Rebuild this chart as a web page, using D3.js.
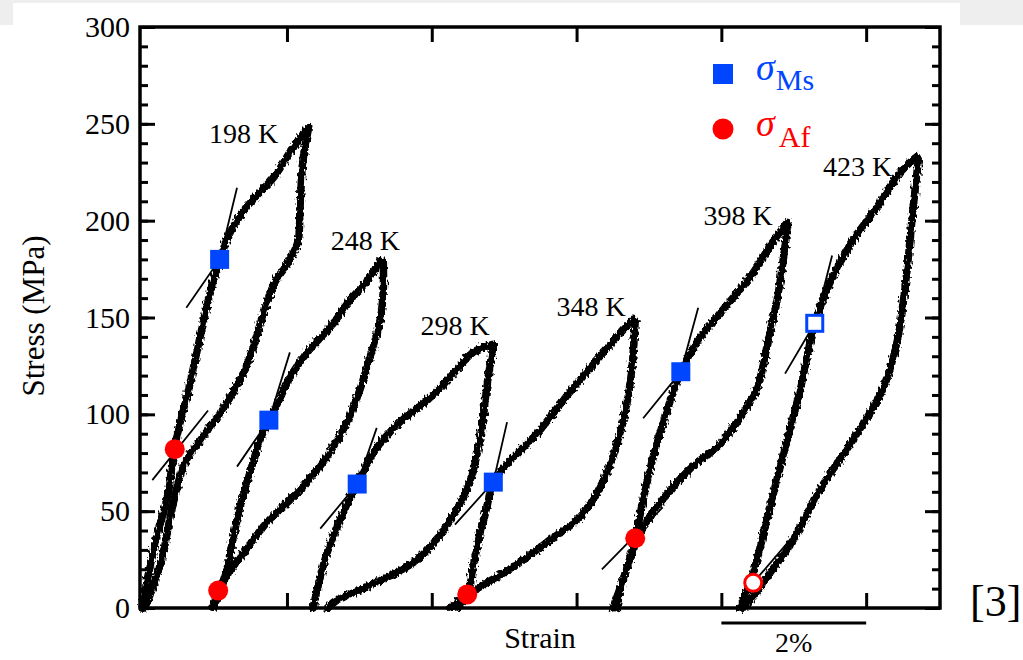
<!DOCTYPE html>
<html>
<head>
    <title></title>
    <meta charset="utf-8">
    <style>
        body { margin: 0; background: #fff; }
        text { font-family: 'Liberation Serif', 'Times New Roman', serif; }
    </style>
</head>
<body>
<script src="https://d3js.org/d3.v7.min.js"></script>
<script>
    // stress-strain loops, [strain %, stress MPa]
    var load198 = [[0.0,0],[0.18,34],[0.36,59],[0.44,82],[0.63,111],[0.83,145],[0.96,166],[1.07,179],
        [1.19,192],[1.42,206],[1.56,212],[1.83,223],[2.07,237],[2.29,248]];
    var unload198 = [[2.30,248],[2.22,231],[2.18,206],[2.15,189],[2.01,178],[1.83,168],[1.66,150],
        [1.42,123],[1.10,102],[0.83,88],[0.59,75],[0.41,51],[0.27,25],[0.08,4],[0.03,0]];

    var load248 = [[0.96,0],[1.07,9],[1.17,20],[1.25,35],[1.35,52],[1.49,70],[1.63,87],[1.75,97],
        [1.90,108],[2.04,119],[2.28,132],[2.64,147],[2.87,159],[3.11,169],[3.28,179]];
    var unload248 = [[3.33,179],[3.33,164],[3.28,147],[3.15,130],[3.01,113],[2.83,96],[2.55,78],
        [2.18,61],[1.72,44],[1.35,26],[1.14,15],[1.05,7],[0.99,0]];

    var load298 = [[2.36,0],[2.55,28],[2.73,45],[2.87,57],[2.97,64],[3.19,80],[3.56,96],[3.93,107],
        [4.25,119],[4.57,132],[4.83,136]];
    var unload298 = [[4.85,136],[4.76,114],[4.67,88],[4.53,66],[4.25,45],[3.80,25],[3.11,11],
        [2.64,3],[2.57,0]];

    var load348 = [[4.25,0],[4.42,5],[4.50,8],[4.57,21],[4.67,39],[4.76,52],[4.85,65],[5.08,76],
        [5.45,90],[5.81,107],[6.19,124],[6.56,140],[6.78,149]];
    var unload348 = [[6.81,148],[6.74,116],[6.60,90],[6.36,65],[6.05,47],[5.59,34],[5.12,21],
        [4.67,11],[4.49,6],[4.36,0]];

    var load398 = [[6.50,0],[6.70,21],[6.81,36],[6.97,65],[7.15,90],[7.44,122],[7.66,137],[8.02,154],
        [8.40,171],[8.71,189],[8.91,199]];
    var unload398 = [[8.92,199],[8.84,176],[8.77,159],[8.67,142],[8.57,124],[8.49,113],[8.35,104],
        [8.22,96],[7.94,83],[7.66,75],[7.39,65],[7.19,56],[7.01,47],[6.88,39],[6.70,21],[6.60,9],[6.56,0]];

    var load423 = [[8.26,0],[8.44,18],[8.67,52],[8.91,87],[9.09,113],[9.29,147],[9.50,168],[9.82,190],
        [10.15,207],[10.47,225],[10.70,233]];
    var unload423 = [[10.72,231],[10.65,207],[10.56,173],[10.43,138],[10.23,113],[9.82,87],[9.36,61],
        [8.99,35],[8.67,18],[8.40,4],[8.31,0]];

    // temperature labels: text, strain and stress at the label's right end
    var tempLabels = ['198 K', '248 K', '298 K', '348 K', '398 K', '423 K'];
    var labelStrain = [1.88, 3.56, 4.80, 6.68, 8.71, 10.36];
    var labelStress = [240, 185, 141, 151, 198, 223];

    // sigma_Ms (squares) and sigma_Af (circles); open = 423 K
    var msPoints = [[1.07,180],[1.75,97],[2.97,64],[4.85,65],[7.44,122],[9.29,147]];
    var msOpen = [false, false, false, false, false, true];
    var afPoints = [[0.45,82],[1.05,9],[4.49,7],[6.81,36],[8.44,13]];
    var afOpen = [false, false, false, false, true];

    // thin tangent construction lines
    var tangents = [
        [[0.61,155],[1.07,180],[1.31,217]],
        [[0.14,66],[0.91,102]],
        [[1.31,73],[1.75,97],[2.04,132]],
        [[2.46,41],[2.97,64],[3.24,93]],
        [[4.32,43],[4.85,65],[5.04,96]],
        [[6.92,98],[7.44,122],[7.68,155]],
        [[6.35,20],[7.19,52]],
        [[8.88,121],[9.29,147],[9.53,182]],
        [[8.44,13],[8.99,37]]
    ];

    var yTicks = [0, 50, 100, 150, 200, 250, 300];
    var yMinor = d3.range(0, 301, 10);
    var xTicks = [2, 4, 6, 8, 10];
    var scaleBar = [8, 10];

    var blue = '#0046ff', red = '#ff0000';
    var W = 1023, H = 660;
    var m = {left: 140, right: 940, top: 27, bottom: 608};

    var svg = d3.select('body').append('svg')
        .attr('width', W)
        .attr('height', H);

    // light grey screenshot edges
    svg.append('rect').attr('x', 0).attr('y', 0).attr('width', W).attr('height', 3).attr('fill', '#eeeeee');
    svg.append('rect').attr('x', 0).attr('y', 0).attr('width', 13).attr('height', 25).attr('fill', '#eeeeee');
    svg.append('rect').attr('x', 960).attr('y', 0).attr('width', 63).attr('height', 25).attr('fill', '#eeeeee');

    var defs = svg.append('defs');
    var filt = defs.append('filter').attr('id', 'rough')
        .attr('filterUnits', 'userSpaceOnUse')
        .attr('x', 0).attr('y', 0).attr('width', W).attr('height', H);
    filt.append('feTurbulence').attr('type', 'fractalNoise')
        .attr('baseFrequency', '0.5 0.3').attr('numOctaves', 1).attr('seed', 4).attr('result', 'n');
    filt.append('feDisplacementMap').attr('in', 'SourceGraphic').attr('in2', 'n')
        .attr('scale', 7).attr('xChannelSelector', 'R').attr('yChannelSelector', 'G');

    var x = d3.scaleLinear().domain([-0.03, 11.02]).range([m.left, m.right]);
    var y = d3.scaleLinear().domain([0, 300]).range([m.bottom, m.top]);

    function styleAxis(g) {
        g.select('.domain').remove();
        g.selectAll('line').attr('stroke', '#000').attr('stroke-width', 3);
        g.selectAll('text').attr('font-size', 30).attr('fill', '#000')
            .attr('font-family', "'Liberation Serif', serif");
    }

    svg.append('g').attr('transform', 'translate(' + m.left + ',0)')
        .call(d3.axisLeft(y).tickValues(yMinor).tickSize(-8).tickFormat(''))
        .call(styleAxis);
    svg.append('g').attr('transform', 'translate(' + m.left + ',0)')
        .call(d3.axisLeft(y).tickValues(yTicks).tickSize(-15).tickPadding(10))
        .call(styleAxis);
    svg.append('g').attr('transform', 'translate(' + m.right + ',0)')
        .call(d3.axisRight(y).tickValues(yMinor).tickSize(-8).tickFormat(''))
        .call(styleAxis);
    svg.append('g').attr('transform', 'translate(' + m.right + ',0)')
        .call(d3.axisRight(y).tickValues(yTicks).tickSize(-15).tickFormat(''))
        .call(styleAxis);
    svg.append('g').attr('transform', 'translate(0,' + m.bottom + ')')
        .call(d3.axisBottom(x).tickValues(xTicks).tickSize(-15).tickFormat(''))
        .call(styleAxis);
    svg.append('g').attr('transform', 'translate(0,' + m.top + ')')
        .call(d3.axisTop(x).tickValues(xTicks).tickSize(-15).tickFormat(''))
        .call(styleAxis);

    svg.append('rect')
        .attr('x', m.left).attr('y', m.top)
        .attr('width', m.right - m.left).attr('height', m.bottom - m.top)
        .attr('fill', 'none').attr('stroke', '#000').attr('stroke-width', 3.5);

    // loops
    var line = d3.line()
        .x(function(d){ return x(d[0]); })
        .y(function(d){ return y(d[1]); })
        .curve(d3.curveCatmullRom.alpha(0.5));

    var branches = [load198, unload198, load248, unload248, load298, unload298,
        load348, unload348, load398, unload398, load423, unload423];

    svg.append('g').attr('filter', 'url(#rough)')
        .selectAll('path').data(branches).enter()
        .append('path')
        .attr('d', line)
        .attr('fill', 'none')
        .attr('stroke', '#000')
        .attr('stroke-width', 7.5)
        .attr('stroke-linejoin', 'round')
        .attr('stroke-linecap', 'round');

    var thin = d3.line()
        .x(function(d){ return x(d[0]); })
        .y(function(d){ return y(d[1]); });
    svg.append('g').selectAll('path').data(tangents).enter()
        .append('path')
        .attr('d', thin)
        .attr('fill', 'none')
        .attr('stroke', '#000')
        .attr('stroke-width', 1.8);

    // markers
    svg.append('g').selectAll('rect').data(msPoints).enter()
        .append('rect')
        .attr('x', function(d, i){ return x(d[0]) - (msOpen[i] ? 8 : 9.5); })
        .attr('y', function(d, i){ return y(d[1]) - (msOpen[i] ? 8 : 9.5); })
        .attr('width', function(d, i){ return msOpen[i] ? 16 : 19; })
        .attr('height', function(d, i){ return msOpen[i] ? 16 : 19; })
        .attr('fill', function(d, i){ return msOpen[i] ? '#fff' : blue; })
        .attr('stroke', blue)
        .attr('stroke-width', function(d, i){ return msOpen[i] ? 3 : 0; });

    svg.append('g').selectAll('circle').data(afPoints).enter()
        .append('circle')
        .attr('cx', function(d){ return x(d[0]); })
        .attr('cy', function(d){ return y(d[1]); })
        .attr('r', function(d, i){ return afOpen[i] ? 8.5 : 10; })
        .attr('fill', function(d, i){ return afOpen[i] ? '#fff' : red; })
        .attr('stroke', red)
        .attr('stroke-width', function(d, i){ return afOpen[i] ? 3 : 0; });

    // temperature labels
    svg.append('g').selectAll('text').data(tempLabels).enter()
        .append('text')
        .attr('x', function(d, i){ return x(labelStrain[i]); })
        .attr('y', function(d, i){ return y(labelStress[i]); })
        .attr('text-anchor', 'end')
        .attr('font-size', 28)
        .text(function(d){ return d; });

    // legend
    var leg = svg.append('g');
    leg.append('rect').attr('x', 713).attr('y', 64).attr('width', 20).attr('height', 20).attr('fill', blue);
    leg.append('circle').attr('cx', 723).attr('cy', 129).attr('r', 10.5).attr('fill', red);
    var t1 = leg.append('text').attr('x', 756).attr('y', 80).attr('fill', blue);
    t1.append('tspan').attr('font-size', 38).attr('font-style', 'italic').text('σ');
    t1.append('tspan').attr('font-size', 30).attr('dx', 1).attr('dy', 10).text('Ms');
    var t2 = leg.append('text').attr('x', 756).attr('y', 136).attr('fill', red);
    t2.append('tspan').attr('font-size', 38).attr('font-style', 'italic').text('σ');
    t2.append('tspan').attr('font-size', 30).attr('dx', 4).attr('dy', 11).text('Af');

    // axis titles, scale bar, ref
    svg.append('text')
        .attr('transform', 'translate(44,316) rotate(-90)')
        .attr('text-anchor', 'middle')
        .attr('font-size', 31)
        .text('Stress (MPa)');
    svg.append('text')
        .attr('x', 540).attr('y', 648)
        .attr('text-anchor', 'middle')
        .attr('font-size', 30)
        .text('Strain');

    svg.append('line')
        .attr('x1', x(scaleBar[0])).attr('x2', x(scaleBar[1]))
        .attr('y1', 623).attr('y2', 623)
        .attr('stroke', '#000').attr('stroke-width', 3);
    svg.append('text')
        .attr('x', (x(scaleBar[0]) + x(scaleBar[1])) / 2).attr('y', 652)
        .attr('text-anchor', 'middle')
        .attr('font-size', 28)
        .text('2%');

    svg.append('text')
        .attr('x', 970).attr('y', 616)
        .attr('font-size', 44)
        .text('[3]');
</script>
</body>
</html>
